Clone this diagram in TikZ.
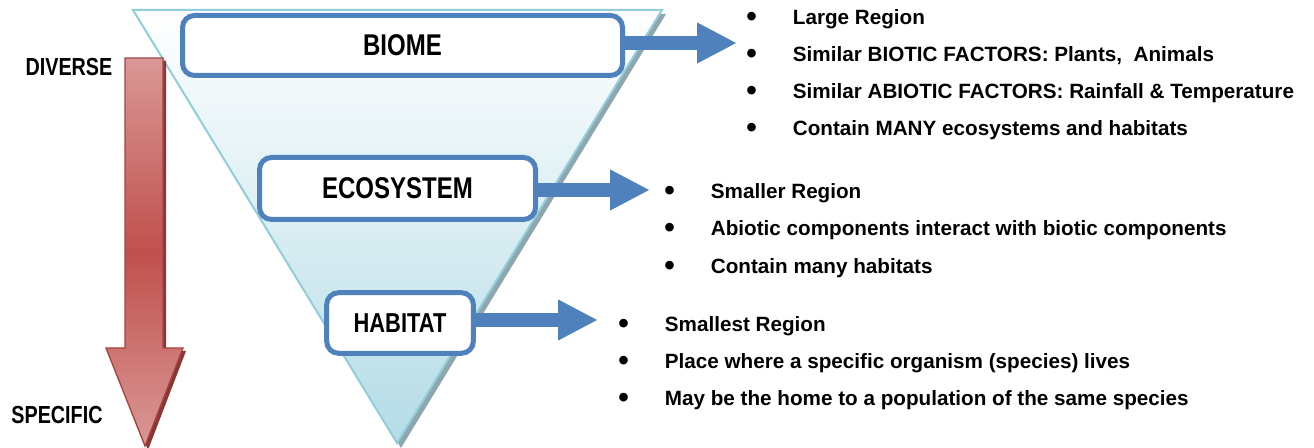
\documentclass[tikz,border=0pt]{standalone}
\usepackage{fontspec}
\setmainfont{Liberation Sans}[FakeStretch=0.8]
\newfontfamily\listfont{Liberation Sans}
\usetikzlibrary{arrows.meta}

\definecolor{boxblue}{HTML}{4F81BD}
\definecolor{trifill}{HTML}{B4DCE6}
\definecolor{triline}{HTML}{92CDDC}
\definecolor{trishadow}{HTML}{8EA6AD}
\definecolor{redlight}{HTML}{DA9896}
\definecolor{reddark}{HTML}{C0504D}
\definecolor{redshadow}{HTML}{8C3533}

\newcommand{\itm}{\makebox[35pt][l]{\raisebox{-1.5pt}{\scalebox{1.45}{\textbullet}}}}

\begin{document}
\begin{tikzpicture}[x=0.75pt,y=-0.75pt,
  levelbox/.style={draw=boxblue, line width=3.75pt, rounded corners=9pt, fill=white,
    inner sep=0pt, font=\bfseries\fontsize{22.5}{26}\selectfont},
  listitem/.style={anchor=west, inner sep=0pt, text height=11pt, text depth=0pt,
    font=\listfont\bfseries\fontsize{15.5}{18}\selectfont},
  sidelabel/.style={inner sep=0pt, font=\bfseries\fontsize{18.5}{22}\selectfont},
  blockarrow/.style={draw=boxblue, line width=10.5pt, -{Triangle[length=30pt, width=28.5pt]}}]
  \useasboundingbox (0,0) rectangle (1314,448);

  % Triangle
  \fill[trishadow] (137,14) -- (666,14) -- (401,448) -- cycle;
  \shade[top color=white, bottom color=trifill] (133,10) -- (662,10) -- (397,443) -- cycle;
  \draw[triline, line width=1.5pt] (133,10) -- (662,10) -- (397,443) -- cycle;

  % Diverse -> specific arrow
  \fill[redshadow] (128,61) -- (166,61) -- (166,351) -- (186,351) -- (148,450)
    -- (109,351) -- (128,351) -- cycle;
  \shade[top color=redlight, bottom color=redlight, middle color=reddark]
    (125,58) -- (163,58) -- (163,348) -- (183,348) -- (145,446) -- (106,348) -- (125,348) -- cycle;
  \draw[reddark!85!black, line width=1pt]
    (125,58) -- (163,58) -- (163,348) -- (183,348) -- (145,446) -- (106,348) -- (125,348) -- cycle;
  \node[sidelabel] (diverse) at (69,67) {DIVERSE};
  \node[sidelabel] (specific) at (57,415) {SPECIFIC};

  % Levels
  \node[levelbox, minimum width=330pt, minimum height=45pt] (biome) at (402.5,45.5) {BIOME};
  \node[levelbox, minimum width=207pt, minimum height=46.5pt] (ecosystem) at (397.5,188.5) {ECOSYSTEM};
  \node[levelbox, minimum width=110pt, minimum height=45.5pt, font=\bfseries\fontsize{20.5}{24}\selectfont]
    (habitat) at (400,323) {HABITAT};

  % Arrows
  \coordinate (biometip) at (737,43);
  \coordinate (ecotip) at (650,190);
  \coordinate (habtip) at (598,320);
  \draw[blockarrow] (biome.east |- biometip) -- (biometip);
  \draw[blockarrow] (ecosystem.east |- ecotip) -- (ecotip);
  \draw[blockarrow] (habitat.east |- habtip) -- (habtip);

  % Biome list
  \node[listitem] (bio1) at (746,17) {\itm Large Region};
  \node[listitem] (bio2) at (746,54) {\itm Similar BIOTIC FACTORS: Plants,\ \ Animals};
  \node[listitem] (bio3) at (746,91) {\itm Similar ABIOTIC FACTORS: Rainfall \& Temperature};
  \node[listitem] (bio4) at (746,128) {\itm Contain MANY ecosystems and habitats};

  % Ecosystem list
  \node[listitem] (eco1) at (664,191) {\itm Smaller Region};
  \node[listitem] (eco2) at (664,228) {\itm Abiotic components interact with biotic components};
  \node[listitem] (eco3) at (664,266) {\itm Contain many habitats};

  % Habitat list
  \node[listitem] (hab1) at (618,324) {\itm Smallest Region};
  \node[listitem] (hab2) at (618,361) {\itm Place where a specific organism (species) lives};
  \node[listitem] (hab3) at (618,398) {\itm May be the home to a population of the same species};

\end{tikzpicture}
\end{document}
